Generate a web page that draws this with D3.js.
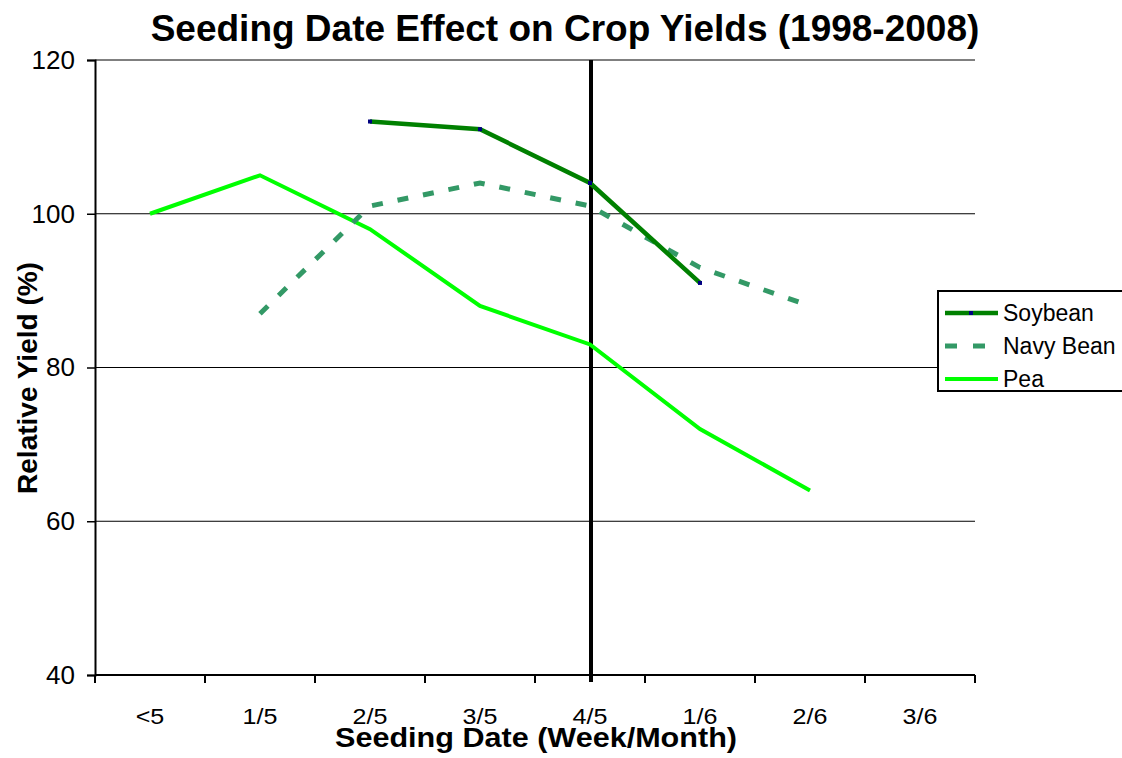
<!DOCTYPE html>
<html>
<head>
<meta charset="utf-8">
<script src="https://cdn.jsdelivr.net/npm/d3@7"></script>
<style>
  body { margin: 0; background: #fff; }
  svg { font-family: Arial, "Liberation Sans", sans-serif; }
</style>
</head>
<body>
<div id="chart"></div>
<script>
// data
var dates = ["<5", "1/5", "2/5", "3/5", "4/5", "1/6", "2/6", "3/6"];
var soybean = [null, null, 112, 111, 104, 91, null, null];
var navyBean = [null, 87, 101, 104, 101, 93, 88, null];
var pea = [100, 105, 98, 88, 83, 72, 64, null];
var yTicks = [40, 60, 80, 100, 120];
var markDate = "4/5";

var margin = {top: 60, right: 147, bottom: 83, left: 95},
    width = 1122 - margin.left - margin.right,
    height = 758 - margin.top - margin.bottom;

var svg = d3.select("#chart")
  .append("svg")
    .attr("width", 1122)
    .attr("height", 758)
  .append("g")
    .attr("transform", "translate(" + margin.left + "," + margin.top + ")");

var x = d3.scaleBand()
  .domain(dates)
  .range([0, width]);

var y = d3.scaleLinear()
  .domain([40, 120])
  .range([height, 0]);

// grid lines
svg.selectAll("line.grid")
  .data(yTicks.slice(1))
  .enter()
  .append("line")
    .attr("x1", 0)
    .attr("x2", width)
    .attr("y1", function(d) { return y(d); })
    .attr("y2", function(d) { return y(d); })
    .attr("stroke", "#000")
    .attr("stroke-width", 1);

// y axis
var yAxis = svg.append("g")
  .call(d3.axisLeft(y).tickValues(yTicks).tickSize(8).tickPadding(12))
  .attr("font-family", "Arial, 'Liberation Sans', sans-serif")
  .attr("font-size", 26);
yAxis.select(".domain").attr("stroke-width", 2);
yAxis.selectAll(".tick line").attr("stroke-width", 1.5);
yAxis.selectAll("text").style("font-size", "26px").attr("fill", "#000");

// x axis (ticks on band edges)
var edges = dates.map(function(d) { return x(d); }).concat([width]);
var xg = svg.append("g").attr("transform", "translate(0," + height + ")");
xg.append("line")
  .attr("x1", 0).attr("x2", width)
  .attr("stroke", "#000").attr("stroke-width", 2);
xg.selectAll("line.tick")
  .data(edges)
  .enter()
  .append("line")
    .attr("x1", function(d) { return d; })
    .attr("x2", function(d) { return d; })
    .attr("y1", 0).attr("y2", 8)
    .attr("stroke", "#000").attr("stroke-width", 2);
xg.selectAll("text")
  .data(dates)
  .enter()
  .append("text")
    .attr("transform", function(d) {
      return "translate(" + (x(d) + x.bandwidth() / 2) + ",49) scale(1.14,1)";
    })
    .attr("text-anchor", "middle")
    .style("font-size", "22px")
    .text(function(d) { return d; });

// vertical marker line
svg.append("line")
  .attr("x1", x(markDate) + x.bandwidth() / 2 + 1)
  .attr("x2", x(markDate) + x.bandwidth() / 2 + 1)
  .attr("y1", 0)
  .attr("y2", height + 7)
  .attr("stroke", "#000")
  .attr("stroke-width", 4);

// lines
function line(vals) {
  return d3.line()
    .defined(function(d) { return d != null; })
    .x(function(d, i) { return x(dates[i]) + x.bandwidth() / 2; })
    .y(function(d) { return y(d); })(vals);
}

svg.append("path")
  .attr("d", line(pea))
  .attr("fill", "none")
  .attr("stroke", "#00ff00")
  .attr("stroke-width", 4);

svg.append("path")
  .attr("d", line(navyBean))
  .attr("fill", "none")
  .attr("stroke", "#339966")
  .attr("stroke-width", 5)
  .attr("stroke-dasharray", "11,15");

svg.append("path")
  .attr("d", line(soybean))
  .attr("fill", "none")
  .attr("stroke", "#008000")
  .attr("stroke-width", 4.5);

svg.selectAll("rect.soy")
  .data(soybean.map(function(v, i) { return {v: v, d: dates[i]}; }).filter(function(p) { return p.v != null; }))
  .enter()
  .append("rect")
    .attr("x", function(p) { return x(p.d) + x.bandwidth() / 2 - 2; })
    .attr("y", function(p) { return y(p.v) - 2; })
    .attr("width", 4)
    .attr("height", 4)
    .attr("fill", "#000080");

// title
svg.append("text")
  .attr("x", 470)
  .attr("y", -19)
  .attr("text-anchor", "middle")
  .style("font-size", "37px")
  .style("font-weight", "bold")
  .text("Seeding Date Effect on Crop Yields (1998-2008)");

// axis titles
svg.append("text")
  .attr("transform", "translate(-58,318) rotate(-90)")
  .attr("text-anchor", "middle")
  .style("font-size", "28px")
  .style("font-weight", "bold")
  .text("Relative Yield (%)");

svg.append("text")
  .attr("x", 441)
  .attr("y", height + 72)
  .attr("text-anchor", "middle")
  .attr("textLength", 402)
  .attr("lengthAdjust", "spacingAndGlyphs")
  .style("font-size", "28px")
  .style("font-weight", "bold")
  .text("Seeding Date (Week/Month)");

// legend
var legend = svg.append("g").attr("transform", "translate(" + (938 - margin.left) + "," + (291 - margin.top) + ")");
legend.append("rect")
  .attr("width", 200).attr("height", 100)
  .attr("fill", "#fff").attr("stroke", "#000").attr("stroke-width", 2);

var items = [
  {name: "Soybean", color: "#008000", w: 4.5, dash: null},
  {name: "Navy Bean", color: "#339966", w: 5, dash: "12,16"},
  {name: "Pea", color: "#00ff00", w: 4, dash: null}
];
items.forEach(function(it, i) {
  var cy = 22 + i * 33;
  legend.append("line")
    .attr("x1", 7).attr("x2", 60)
    .attr("y1", cy).attr("y2", cy)
    .attr("stroke", it.color)
    .attr("stroke-width", it.w)
    .attr("stroke-dasharray", it.dash);
  legend.append("text")
    .attr("x", 65).attr("y", cy + 8)
    .style("font-size", "23px")
    .text(it.name);
});
legend.append("rect")
  .attr("x", 31).attr("y", 20).attr("width", 4).attr("height", 4)
  .attr("fill", "#000080");
</script>
</body>
</html>
